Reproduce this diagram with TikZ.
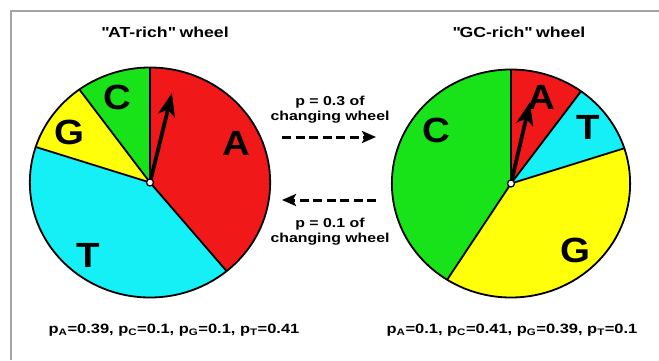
\documentclass[tikz,border=0pt]{standalone}
\usepackage{fontspec}
\setmainfont{Liberation Sans}[FakeStretch=1.22]
\newfontfamily\bigletter{Liberation Sans}[FakeStretch=1.1]
\usetikzlibrary{arrows.meta}
\definecolor{cRed}{RGB}{240,24,24}
\definecolor{cGreen}{RGB}{24,226,24}
\definecolor{cYellow}{RGB}{255,255,10}
\definecolor{cCyan}{RGB}{20,240,245}
\definecolor{frameGray}{RGB}{165,165,165}
\tikzset{
  sep/.style={line width=1.8pt},
  rim/.style={line width=1.8pt},
  bigl/.style={font=\bigletter\fontsize{35}{35}\selectfont\bfseries, inner sep=0pt},
  titletext/.style={font=\fontsize{14.5}{16}\selectfont\bfseries, inner sep=0pt},
  midtext/.style={font=\fontsize{13}{15}\selectfont\bfseries, inner sep=0pt, align=center},
  probtext/.style={font=\fontsize{13.5}{15}\selectfont\bfseries, inner sep=0pt},
  pointer/.style={line width=3.8pt, -{Stealth[length=23pt,width=17pt,inset=6pt]}},
  hub/.style={circle, draw, fill=white, inner sep=0pt, minimum size=7pt, line width=1.3pt},
  dasharrow/.style={line width=3pt, dash pattern=on 9pt off 4.5pt, -{Stealth[length=14pt,width=12pt,inset=3pt]}}
}
\begin{document}
\begin{tikzpicture}[x=1pt,y=1pt]
\useasboundingbox (0,0) rectangle (659,360);
\fill[white] (0,0) rectangle (659,360);
% frame (only top and left edges visible)
\draw[frameGray, line width=2.6pt] (11,0) -- (11,349) -- (659,349);

% ---------- left wheel (AT-rich) ----------
\coordinate (L) at (150,177.5);
\begin{scope}[shift={(L)}, xscale=1.045]
  \fill[cRed]    (0,0) -- (90:115)   arc[start angle=90,   end angle=-50.4, radius=115] -- cycle;
  \fill[cCyan]   (0,0) -- (-50.4:115) arc[start angle=-50.4, end angle=-198, radius=115] -- cycle;
  \fill[cYellow] (0,0) -- (162:115)  arc[start angle=162,  end angle=126,   radius=115] -- cycle;
  \fill[cGreen]  (0,0) -- (126:115)  arc[start angle=126,  end angle=90,    radius=115] -- cycle;
  \draw[sep] (0,0) -- (90:115);
  \draw[sep] (0,0) -- (-50.4:115);
  \draw[sep] (0,0) -- (162:115);
  \draw[sep] (0,0) -- (126:115);
  \draw[rim] (0,0) circle[radius=115];
\end{scope}
\node[bigl] (LA) at (236,217) {A};
\node[bigl] (LC) at (117,263) {C};
\node[bigl] (LG) at (69,228) {G};
\node[bigl] (LT) at (88,105) {T};
\coordinate (tipL) at (172,267);
\draw[pointer] (L) -- (tipL);
\node[hub] (hubL) at (L) {};

% ---------- right wheel (GC-rich) ----------
\coordinate (R) at (511,176.5);
\begin{scope}[shift={(R)}, xscale=1.045]
  \fill[cRed]    (0,0) -- (90:114)  arc[start angle=90,  end angle=54,     radius=114] -- cycle;
  \fill[cCyan]   (0,0) -- (54:114)  arc[start angle=54,  end angle=18,     radius=114] -- cycle;
  \fill[cYellow] (0,0) -- (18:114)  arc[start angle=18,  end angle=-122.4, radius=114] -- cycle;
  \fill[cGreen]  (0,0) -- (-122.4:114) arc[start angle=-122.4, end angle=-270, radius=114] -- cycle;
  \draw[sep] (0,0) -- (90:114);
  \draw[sep] (0,0) -- (54:114);
  \draw[sep] (0,0) -- (18:114);
  \draw[sep] (0,0) -- (-122.4:114);
  \draw[rim] (0,0) circle[radius=114];
\end{scope}
\node[bigl] (RC) at (436,230) {C};
\node[bigl] (RA) at (541,263) {A};
\node[bigl] (RT) at (588,233) {T};
\node[bigl] (RG) at (575,110) {G};
\coordinate (tipR) at (530,258);
\draw[pointer] (R) -- (tipR);
\node[hub] (hubR) at (R) {};

% ---------- titles ----------
\node[titletext] (tL) at (165,328) {\textquotedbl AT-rich\textquotedbl{} wheel};
\node[titletext] (tR) at (519,328) {\textquotedbl GC-rich\textquotedbl{} wheel};

% ---------- transitions ----------
\node[midtext] (m1) at (330,250) {p = 0.3 of\\changing wheel};
\coordinate (a1s) at (282,223);
\coordinate (a1e) at (376,223);
\draw[dasharrow] (a1s) -- (a1e);
\coordinate (a2s) at (376,160);
\coordinate (a2e) at (282,160);
\draw[dasharrow] (a2s) -- (a2e);
\node[midtext] (m2) at (330,128) {p = 0.1 of\\changing wheel};

% ---------- probabilities ----------
\node[probtext] (pL) at (174,30) {p\textsubscript{A}=0.39, p\textsubscript{C}=0.1, p\textsubscript{G}=0.1, p\textsubscript{T}=0.41};
\node[probtext] (pR) at (512,30) {p\textsubscript{A}=0.1, p\textsubscript{C}=0.41, p\textsubscript{G}=0.39, p\textsubscript{T}=0.1};
\end{tikzpicture}
\end{document}
